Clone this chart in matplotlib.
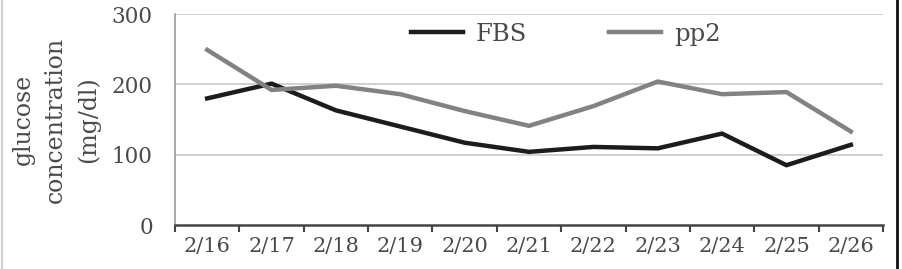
import matplotlib
matplotlib.use("Agg")
import matplotlib.pyplot as plt
from matplotlib.lines import Line2D

dates = ["2/16", "2/17", "2/18", "2/19", "2/20", "2/21", "2/22", "2/23", "2/24", "2/25", "2/26"]
fbs = [180, 201, 163, 140, 117, 104, 111, 109, 130, 85, 114]
pp2 = [249, 192, 198, 186, 162, 141, 169, 204, 186, 189, 133]
yticks = [0, 100, 200, 300]

plt.rcParams['font.family'] = ['DejaVu Serif']
txt = '#4a4a4a'

fig = plt.figure(figsize=(9.03, 2.69), dpi=100)
ax = fig.add_axes([175/903, 1-225/269, (883-175)/903, (225-14)/269])

x = list(range(len(dates)))
ax.plot(x, fbs, color='#1c1c1c', lw=3.2, label='FBS', solid_joinstyle='round')
ax.plot(x, pp2, color='#828282', lw=3.2, label='pp2', solid_joinstyle='round')

ax.set_xlim(-0.5, len(dates) - 0.5)
ax.set_ylim(0, 300)
ax.set_yticks(yticks)
ax.set_yticklabels([str(v) for v in yticks], fontsize=15.5, color=txt)
ax.tick_params(axis='y', length=0, pad=16)
for v in yticks[1:]:
    ax.axhline(v, color='#c8c8c8', lw=1.2, zorder=0)

ax.set_xticks([i - 0.5 for i in range(len(dates) + 1)])
ax.set_xticklabels([])
ax.tick_params(axis='x', which='major', length=5, width=1.5, color='#444444', direction='out')
ax.set_xticks(x, minor=True)
ax.set_xticklabels(dates, minor=True, fontsize=15, color=txt)
ax.tick_params(axis='x', which='minor', length=0, pad=9)

for s in ['top', 'right']:
    ax.spines[s].set_visible(False)
ax.spines['left'].set_color('#9a9a9a')
ax.spines['left'].set_linewidth(1.2)
ax.spines['bottom'].set_color('#444444')
ax.spines['bottom'].set_linewidth(1.8)

ax.set_ylabel("glucose\nconcentration\n(mg/dl)", fontsize=17, color=txt, linespacing=1.5)
ax.yaxis.set_label_coords(-0.106, 0.5)

leg = ax.legend(ncol=2, loc='center', bbox_to_anchor=(0.552, 0.905), frameon=False,
                fontsize=17.5, handlelength=2.14, handletextpad=0.53, columnspacing=3.4)
for t in leg.get_texts():
    t.set_color(txt)

fig.add_artist(Line2D([2/903, 2/903], [0, 1], color='#d0d0d0', lw=1.5, transform=fig.transFigure))
fig.add_artist(Line2D([897/903, 897/903], [0, 1], color='#111111', lw=2, transform=fig.transFigure))

fig.savefig("out.png", dpi=100)
